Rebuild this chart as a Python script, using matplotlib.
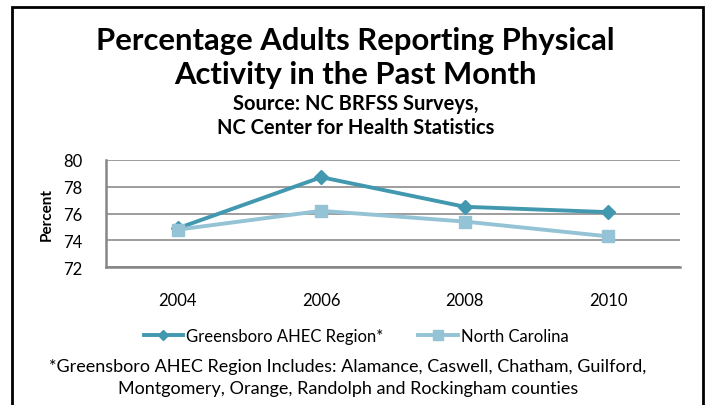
import matplotlib.pyplot as plt
from matplotlib.patches import Rectangle

# data
years = ['2004', '2006', '2008', '2010']
greensboro = [74.9, 78.7, 76.5, 76.1]
north_carolina = [74.8, 76.2, 75.4, 74.3]
yticks = [72, 74, 76, 78, 80]

plt.rcParams['font.family'] = ['Lato', 'DejaVu Sans']

fig = plt.figure(figsize=(7.08, 4.06), dpi=100)
ax = fig.add_axes([106 / 708, 1 - 268.3 / 406, 574 / 708, 107.6 / 406])

x = range(len(years))
ax.plot(x, greensboro, color='#4198af', lw=2.8, marker='D', ms=7,
        label='Greensboro AHEC Region*', zorder=3)
ax.plot(x, north_carolina, color='#93c3d5', lw=2.8, marker='s', ms=9,
        label='North Carolina', zorder=3)

ax.set_xlim(-0.5, 3.5)
ax.set_ylim(72, 80)
ax.set_yticks(yticks)
ax.set_xticks(list(x))
ax.set_xticklabels(years)
ax.tick_params(axis='both', length=0, labelsize=12, colors='black')
ax.tick_params(axis='x', pad=18)
ax.tick_params(axis='y', pad=17)
ax.grid(axis='y', color='#8c8c8c', lw=1.2)
ax.set_axisbelow(True)
for s in ['top', 'right']:
    ax.spines[s].set_visible(False)
for s in ['left', 'bottom']:
    ax.spines[s].set_color('#868686')
    ax.spines[s].set_linewidth(1.8)
ax.set_ylabel('Percent', fontsize=11, fontweight='bold', labelpad=7)

# titles
fig.text(0.502, 1 - 41 / 406, 'Percentage Adults Reporting Physical',
         ha='center', va='center', fontsize=22.3, fontweight='bold')
fig.text(0.502, 1 - 75 / 406, 'Activity in the Past Month',
         ha='center', va='center', fontsize=22.3, fontweight='bold')
fig.text(0.502, 1 - 104 / 406, 'Source: NC BRFSS Surveys,',
         ha='center', va='center', fontsize=14.5, fontweight='bold')
fig.text(0.502, 1 - 128 / 406, 'NC Center for Health Statistics',
         ha='center', va='center', fontsize=14.5, fontweight='bold')

fig.legend(loc='center', bbox_to_anchor=(0.503, 1 - 337 / 406), ncol=2,
           frameon=False, fontsize=12, handlelength=2.35, handletextpad=0.2,
           columnspacing=2.1, borderpad=0, markerscale=0.8)

fig.text(0.491, 1 - 367 / 406,
         '*Greensboro AHEC Region Includes: Alamance, Caswell, Chatham, Guilford,',
         ha='center', va='center', fontsize=13)
fig.text(0.491, 1 - 389 / 406,
         'Montgomery, Orange, Randolph and Rockingham counties',
         ha='center', va='center', fontsize=13)

# outer frame
fig.patches.append(Rectangle((12 / 708, -0.05), 691 / 708, 1.05 - 8 / 406,
                             transform=fig.transFigure, fill=False,
                             edgecolor='black', lw=2))

fig.savefig('out.png', dpi=100)
